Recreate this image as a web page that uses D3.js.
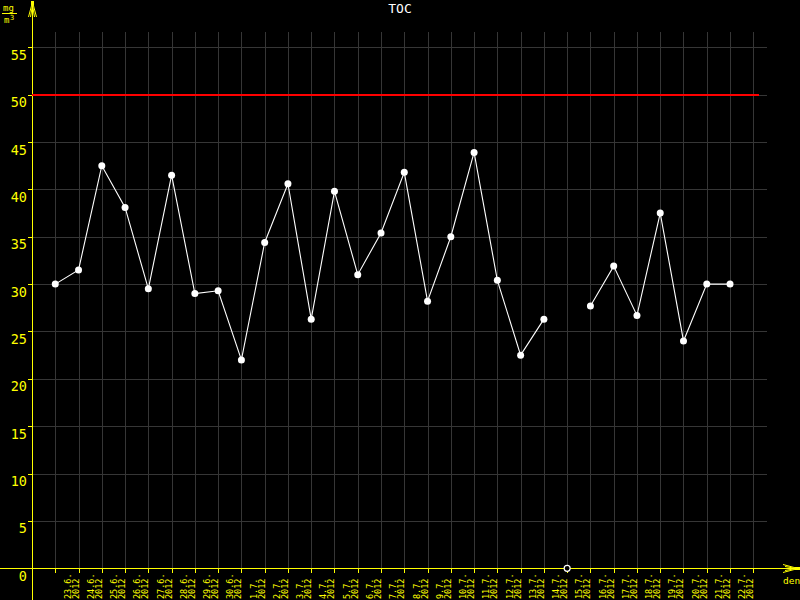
<!DOCTYPE html>
<html><head><meta charset="utf-8">
<script src="https://cdn.jsdelivr.net/npm/d3@7"></script>
<style>
html,body{margin:0;padding:0;background:#000;}
svg{display:block;}
text{font-family:"DejaVu Sans Mono",monospace;}
</style></head>
<body>
<svg id="c" width="800" height="600"></svg>
<script>
const dates = ["23.6.","24.6.","25.6.","26.6.","27.6.","28.6.","29.6.","30.6.",
  "1.7.","2.7.","3.7.","4.7.","5.7.","6.7.","7.7.","8.7.","9.7.","10.7.","11.7.","12.7.",
  "13.7.","14.7.","15.7.","16.7.","17.7.","18.7.","19.7.","20.7.","21.7.","22.7."];
const year = "2012";
const values = [30.0,31.5,42.5,38.1,29.5,41.5,29.0,29.3,22.0,34.4,40.6,26.3,39.8,31.0,35.4,41.8,
  28.2,35.0,43.9,30.4,22.5,26.3,null,27.7,31.9,26.7,37.5,24.0,30.0,30.0];
const yTicks = [0,5,10,15,20,25,30,35,40,45,50,55];
const limit = 50;
const title = "TOC";
const yUnitTop = "mg", yUnitBottom = "m", yUnitSup = "3";
const xUnit = "den";

const svg = d3.select("#c");
const Y = "#ffff00", GRID = "#363636";
svg.append("rect").attr("width",800).attr("height",600).attr("fill","#000");

const x = d3.scaleLinear().domain([-1, dates.length]).range([32, 753.3]);
const y = d3.scaleLinear().domain([0, 55]).range([568.3, 47.3]);
const px = v => Math.round(v) + 0.5;

const g = svg.append("g").attr("shape-rendering","crispEdges");
const xt = d3.range(0, dates.length + 1);
g.selectAll(".vg").data(xt).join("line")
  .attr("x1", d => px(x(d))).attr("x2", d => px(x(d)))
  .attr("y1", 32).attr("y2", 568).attr("stroke", GRID);
g.selectAll(".hg").data(yTicks.filter(d => d > 0)).join("line")
  .attr("x1", 32).attr("x2", 767)
  .attr("y1", d => px(y(d))).attr("y2", d => px(y(d))).attr("stroke", GRID);

svg.append("line").attr("x1", 32).attr("x2", 759)
  .attr("y1", Math.round(y(limit))).attr("y2", Math.round(y(limit)))
  .attr("stroke", "#ff0000").attr("stroke-width", 2).attr("shape-rendering","crispEdges");

g.append("line").attr("x1", 32.5).attr("x2", 32.5).attr("y1", 2).attr("y2", 600).attr("stroke", Y);
g.append("line").attr("x1", 0).attr("x2", 797).attr("y1", px(y(0))).attr("y2", px(y(0))).attr("stroke", Y);
g.selectAll(".yt").data(yTicks).join("line")
  .attr("x1", 28).attr("x2", 32).attr("y1", d => px(y(d))).attr("y2", d => px(y(d))).attr("stroke", Y);
svg.selectAll(".yl").data(yTicks).join("text")
  .attr("x", 27).attr("y", d => y(d) + 12.5).attr("text-anchor","end")
  .attr("fill", Y).attr("font-size", "13.5px").text(d => d);
g.selectAll(".xt").data(xt).join("line")
  .attr("x1", d => px(x(d))).attr("x2", d => px(x(d)))
  .attr("y1", 568).attr("y2", 573).attr("stroke", Y);
const xl = svg.selectAll(".xl").data(dates).join("text")
  .attr("transform", (d,i) => `translate(${x(i+1) - 8},599) rotate(-90)`)
  .attr("fill", Y).attr("font-size", "8.5px");
xl.append("tspan").attr("x", 0).attr("dy", 0).text(d => d);
xl.append("tspan").attr("x", 0).attr("dy", 8).text(year);

svg.append("path").attr("d","M32.5,2 L28.5,17 M32.5,2 L36.5,17 M32.5,5 L30.5,17 M32.5,5 L34.5,17")
  .attr("stroke", Y).attr("fill","none");
svg.append("rect").attr("x",31).attr("y",1).attr("width",3).attr("height",4).attr("fill",Y);
svg.append("path").attr("d","M798,568.5 L783,564.5 M798,568.5 L783,572.5 M796,568.5 L785,566.5 M796,568.5 L785,570.5")
  .attr("stroke", Y).attr("fill","none");
svg.append("rect").attr("x",795).attr("y",567).attr("width",5).attr("height",3).attr("fill",Y);
svg.append("text").attr("x", 783).attr("y", 584).attr("fill", Y).attr("font-size","9.5px").text(xUnit);

svg.append("text").attr("x", 3).attr("y", 11).attr("fill", Y).attr("font-size","9px").text(yUnitTop);
svg.append("line").attr("x1",2).attr("x2",17).attr("y1",13.5).attr("y2",13.5).attr("stroke",Y).attr("shape-rendering","crispEdges");
svg.append("text").attr("x", 4).attr("y", 23).attr("fill", Y).attr("font-size","9px").text(yUnitBottom);
svg.append("text").attr("x", 10).attr("y", 20).attr("fill", Y).attr("font-size","7px").text(yUnitSup);

svg.append("text").attr("x", 400).attr("y", 13).attr("text-anchor","middle")
  .attr("fill","#ffffff").attr("font-size","13px").text(title);

const data = values.map((v,i) => ({i, v}));
svg.append("path").datum(data)
  .attr("d", d3.line().defined(d => d.v !== null).x(d => x(d.i)).y(d => y(d.v)))
  .attr("fill","none").attr("stroke","#ffffff").attr("stroke-width",1.1);
svg.selectAll(".pt").data(data.filter(d => d.v !== null)).join("circle")
  .attr("cx", d => x(d.i)).attr("cy", d => y(d.v)).attr("r", 3.5).attr("fill","#ffffff");
svg.selectAll(".mp").data(data.filter(d => d.v === null)).join("circle")
  .attr("cx", d => x(d.i)).attr("cy", y(0)).attr("r", 3)
  .attr("fill","#000").attr("stroke","#ffffff").attr("stroke-width",1.2);
</script>
</body></html>
